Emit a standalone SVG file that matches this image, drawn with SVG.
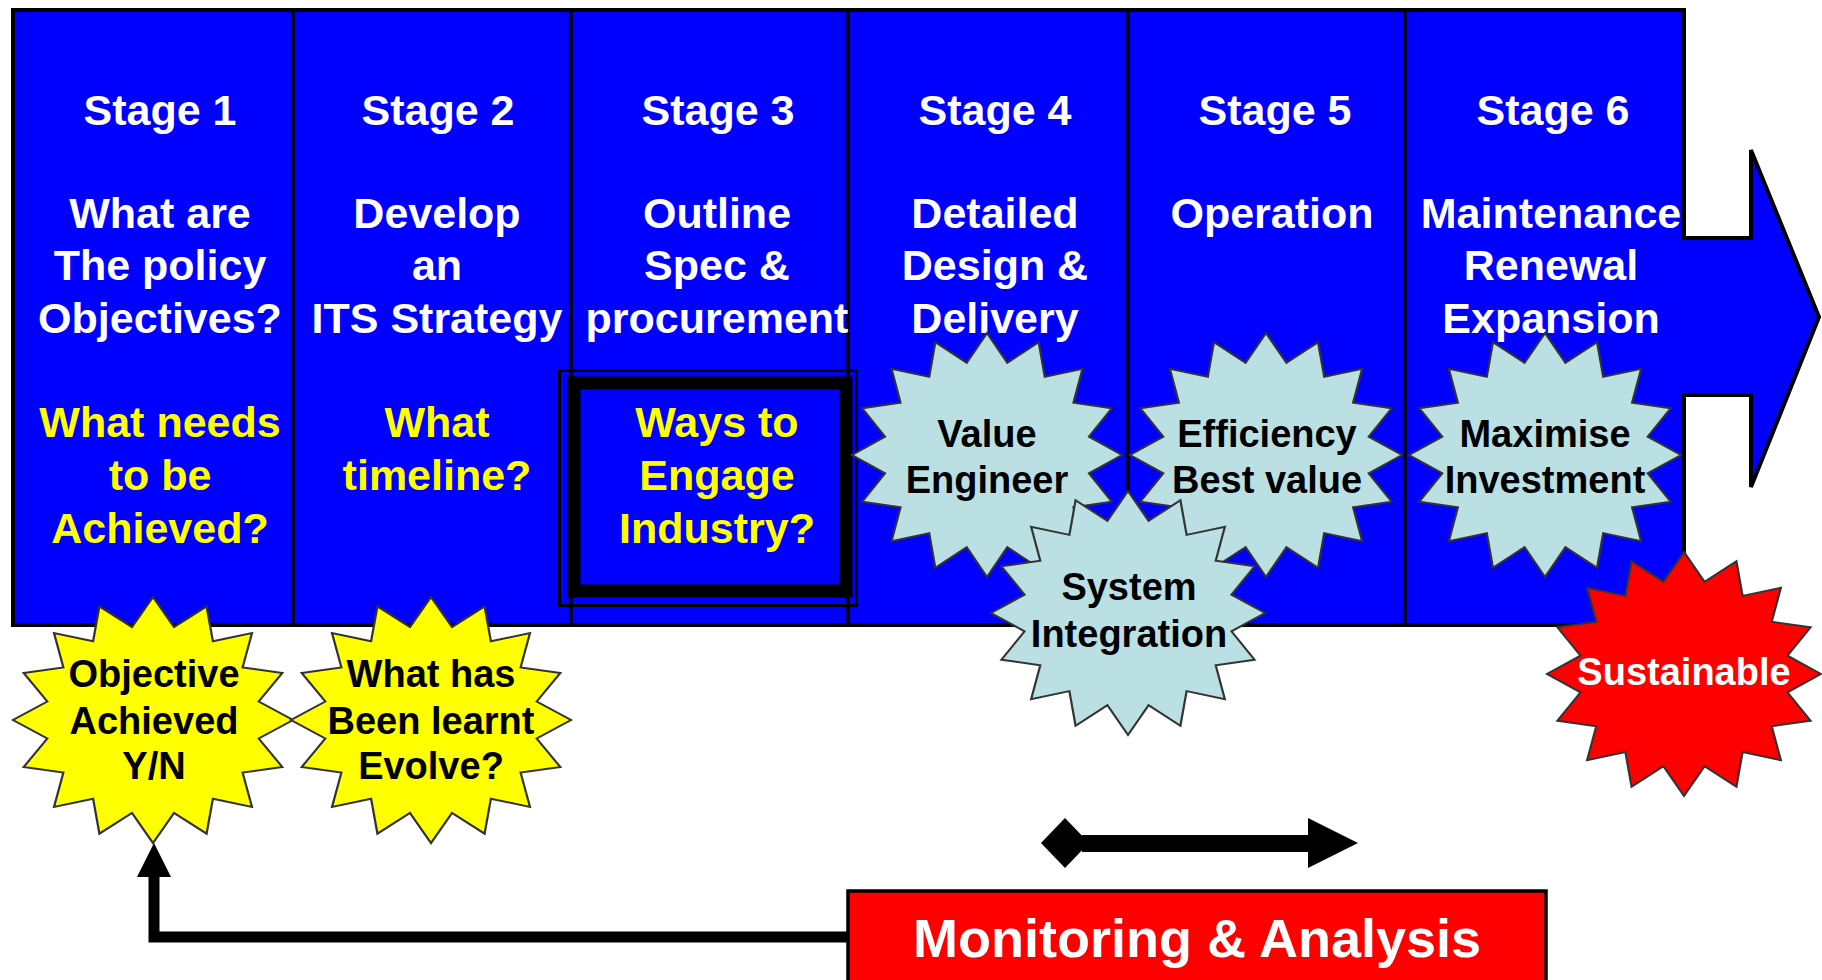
<svg xmlns="http://www.w3.org/2000/svg" xmlns:xlink="http://www.w3.org/1999/xlink" width="1822" height="980" viewBox="0 0 1822 980">
<style>
  text { font-family: "Liberation Sans", Arial, sans-serif; font-weight: bold; text-anchor: middle; }
  .st { font-size: 43px; fill: #FFFFFF; }
  .q { font-size: 43px; fill: #FFFF00; }
  .sx { font-size: 38px; fill: #000000; }
  .sw { font-size: 38px; fill: #FFFFFF; }
  .div { stroke: #000; stroke-width: 3.5; }
  .star { stroke: #333; stroke-width: 1.6; vector-effect: non-scaling-stroke; }
  .yel { fill: #FFFF00; }
  .lb { fill: #BBE0E3; }
  .red { fill: #FF0000; }
</style>
<defs>
  <path id="star16" d="M0,-100 L15.02,-75.52 L38.27,-92.39 L42.78,-64.02 L70.71,-70.71 L64.02,-42.78 L92.39,-38.27 L75.52,-15.02 L100,0 L75.52,15.02 L92.39,38.27 L64.02,42.78 L70.71,70.71 L42.78,64.02 L38.27,92.39 L15.02,75.52 L0,100 L-15.02,75.52 L-38.27,92.39 L-42.78,64.02 L-70.71,70.71 L-64.02,42.78 L-92.39,38.27 L-75.52,15.02 L-100,0 L-75.52,-15.02 L-92.39,-38.27 L-64.02,-42.78 L-70.71,-70.71 L-42.78,-64.02 L-38.27,-92.39 L-15.02,-75.52 Z"/>
</defs>
<rect x="0" y="0" width="1822" height="980" fill="#FFFFFF"/>

<!-- main block arrow -->
<g id="process-arrow">
  <path d="M13,10 H1684 V238 H1751 V150 L1819,317 L1751,487 V395 H1684 V625 H13 Z" fill="#0000FF" stroke="#000" stroke-width="4" stroke-linejoin="miter"/>
  <line class="div" x1="293" y1="10" x2="293" y2="625"/>
  <line class="div" x1="571" y1="10" x2="571" y2="625"/>
  <line class="div" x1="848" y1="10" x2="848" y2="625"/>
  <line class="div" x1="1128" y1="10" x2="1128" y2="625"/>
  <line class="div" x1="1405" y1="10" x2="1405" y2="625"/>
</g>

<g id="stage1">
  <text class="st" x="160" y="125">Stage 1</text>
  <text class="st" x="160" y="228">What are</text>
  <text class="st" x="160" y="280">The policy</text>
  <text class="st" x="160" y="333">Objectives?</text>
  <text class="q" x="160" y="437">What needs</text>
  <text class="q" x="160" y="490">to be</text>
  <text class="q" x="160" y="543">Achieved?</text>
</g>
<g id="stage2">
  <text class="st" x="438" y="125">Stage 2</text>
  <text class="st" x="437" y="228">Develop</text>
  <text class="st" x="437" y="280">an</text>
  <text class="st" x="437" y="333">ITS Strategy</text>
  <text class="q" x="437" y="437">What</text>
  <text class="q" x="437" y="490">timeline?</text>
</g>
<g id="stage3">
  <text class="st" x="718" y="125">Stage 3</text>
  <text class="st" x="717" y="228">Outline</text>
  <text class="st" x="717" y="280">Spec &amp;</text>
  <text class="st" x="717" y="333">procurement</text>
  <rect x="559.5" y="370.5" width="297" height="235" fill="none" stroke="#000" stroke-width="3"/>
  <rect x="574" y="383" width="272" height="208" fill="#0000FF" stroke="#000" stroke-width="13"/>
  <text class="q" x="717" y="437">Ways to</text>
  <text class="q" x="717" y="490">Engage</text>
  <text class="q" x="717" y="543">Industry?</text>
</g>
<g id="stage4">
  <text class="st" x="995" y="125">Stage 4</text>
  <text class="st" x="995" y="228">Detailed</text>
  <text class="st" x="995" y="280">Design &amp;</text>
  <text class="st" x="995" y="333">Delivery</text>
</g>
<g id="stage5">
  <text class="st" x="1275" y="125">Stage 5</text>
  <text class="st" x="1272" y="228">Operation</text>
</g>
<g id="stage6">
  <text class="st" x="1553" y="125">Stage 6</text>
  <text class="st" x="1551" y="228">Maintenance</text>
  <text class="st" x="1551" y="280">Renewal</text>
  <text class="st" x="1551" y="333">Expansion</text>
</g>

<g id="star-value-engineer">
  <use xlink:href="#star16" href="#star16" class="star lb" transform="translate(987,455) scale(1.35,1.22)"/>
  <text class="sx" x="987" y="447">Value</text>
  <text class="sx" x="987" y="493">Engineer</text>
</g>
<g id="star-efficiency">
  <use xlink:href="#star16" href="#star16" class="star lb" transform="translate(1266,455) scale(1.36,1.22)"/>
  <text class="sx" x="1267" y="447">Efficiency</text>
  <text class="sx" x="1267" y="493">Best value</text>
</g>
<g id="star-maximise">
  <use xlink:href="#star16" href="#star16" class="star lb" transform="translate(1545,455) scale(1.36,1.22)"/>
  <text class="sx" x="1545" y="447">Maximise</text>
  <text class="sx" x="1545" y="493">Investment</text>
</g>
<g id="star-system-integration">
  <use xlink:href="#star16" href="#star16" class="star lb" transform="translate(1128,613) scale(1.37,1.22)"/>
  <text class="sx" x="1129" y="600">System</text>
  <text class="sx" x="1129" y="647">Integration</text>
</g>
<g id="star-sustainable">
  <use xlink:href="#star16" href="#star16" class="star red" transform="translate(1684,674) scale(1.37,1.22)"/>
  <text class="sw" x="1684" y="685">Sustainable</text>
</g>
<g id="star-objective">
  <use xlink:href="#star16" href="#star16" class="star yel" transform="translate(153,720) scale(1.40,1.23)"/>
  <text class="sx" x="154" y="687">Objective</text>
  <text class="sx" x="154" y="734">Achieved</text>
  <text class="sx" x="154" y="779">Y/N</text>
</g>
<g id="star-learnt">
  <use xlink:href="#star16" href="#star16" class="star yel" transform="translate(431,720) scale(1.40,1.23)"/>
  <text class="sx" x="431" y="687">What has</text>
  <text class="sx" x="431" y="734">Been learnt</text>
  <text class="sx" x="431" y="779">Evolve?</text>
</g>

<g id="monitoring">
  <rect x="848" y="891" width="698" height="100" fill="#FF0000" stroke="#000" stroke-width="3.5"/>
  <text x="1197" y="957" style="font-size:54px; fill:#FFFFFF;">Monitoring &amp; Analysis</text>
</g>

<g id="connectors">
  <path d="M848,937 H154 V872" fill="none" stroke="#000" stroke-width="11"/>
  <polygon points="154,843 137,877 171,877" fill="#000"/>
  <rect x="1082" y="835" width="230" height="17" fill="#000"/>
  <polygon points="1041,843 1065,818 1089,843 1065,868" fill="#000"/>
  <polygon points="1308,818 1358,843 1308,868" fill="#000"/>
</g>
</svg>
